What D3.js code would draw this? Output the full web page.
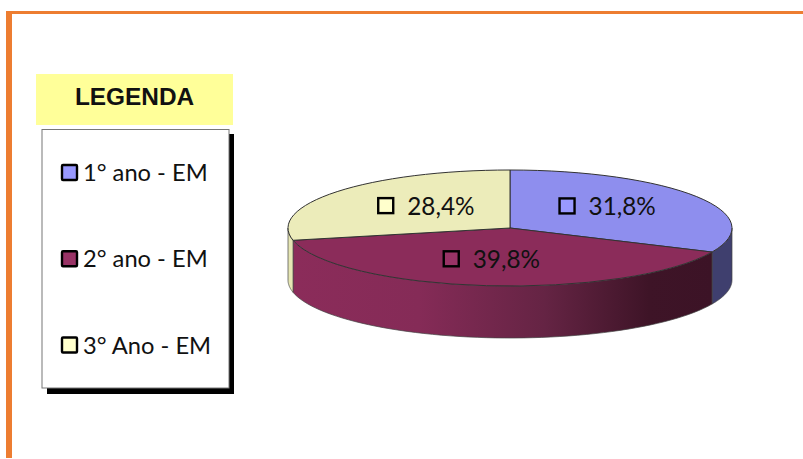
<!DOCTYPE html>
<html>
<head>
<meta charset="utf-8">
<script src="https://cdn.jsdelivr.net/npm/d3@7"></script>
<style>
  html, body { margin: 0; padding: 0; background: #fff; }
  svg { display: block; }
  .lbl { font-family: Lato, "Open Sans", sans-serif; font-size: 23.7px; fill: #111; }
</style>
</head>
<body>
<div id="chart"></div>
<script>
const categories = ["1° ano - EM", "2° ano - EM", "3° Ano - EM"];
const values = [31.8, 39.8, 28.4];
const valueLabels = ["31,8%", "39,8%", "28,4%"];
const keyColors = ["#9999ff", "#993366", "#ffffcc"];
const topColors = ["#8e8eee", "#8b2c5a", "#ececba"];
const sideColors = ["#3f3f6e", "url(#wall)", "#e6e6b4"];

const width = 803;
const height = 459;
const cx = 510, cy = 228, rx = 222, ry = 58, depth = 52;

const svg = d3
  .select("#chart")
  .append("svg")
  .attr("width", width)
  .attr("height", height);

// gradient on the front wall of the big slice
const grad = svg
  .append("defs")
  .append("linearGradient")
  .attr("id", "wall")
  .attr("gradientUnits", "userSpaceOnUse")
  .attr("x1", 293)
  .attr("x2", 712)
  .attr("y1", 0)
  .attr("y2", 0);
grad.append("stop").attr("offset", 0).attr("stop-color", "#8b2c5a");
grad.append("stop").attr("offset", 0.3).attr("stop-color", "#852b57");
grad.append("stop").attr("offset", 0.6).attr("stop-color", "#652444");
grad.append("stop").attr("offset", 0.85).attr("stop-color", "#3e1427");
grad.append("stop").attr("offset", 1).attr("stop-color", "#3c1326");

// slide frame
svg.append("rect").attr("x", 6).attr("y", 11).attr("width", 797).attr("height", 3).attr("fill", "#ed7d31");
svg.append("rect").attr("x", 6).attr("y", 11).attr("width", 6).attr("height", 447).attr("fill", "#ed7d31");

// legend
svg.append("rect").attr("x", 36).attr("y", 74).attr("width", 197).attr("height", 51).attr("fill", "#ffff99");
svg
  .append("text")
  .attr("x", 134.5)
  .attr("y", 104.5)
  .attr("text-anchor", "middle")
  .style("font-family", "'Liberation Sans', sans-serif")
  .style("font-weight", "bold")
  .style("font-size", "24.4px")
  .attr("fill", "#111")
  .text("LEGENDA");

svg.append("rect").attr("x", 47).attr("y", 134).attr("width", 187).attr("height", 260).attr("fill", "#000");
svg
  .append("rect")
  .attr("x", 42)
  .attr("y", 129.5)
  .attr("width", 187)
  .attr("height", 258.5)
  .attr("fill", "#fff")
  .attr("stroke", "#777")
  .attr("stroke-width", 1);

const legendY = d3.scalePoint().domain(categories).range([172.5, 345]);

const legendRows = svg
  .append("g")
  .selectAll("g")
  .data(categories)
  .join("g")
  .attr("transform", (d) => `translate(0,${legendY(d)})`);

legendRows
  .append("rect")
  .attr("x", 62)
  .attr("y", -7.5)
  .attr("width", 15)
  .attr("height", 15)
  .attr("rx", 1)
  .attr("fill", (d, i) => keyColors[i])
  .attr("stroke", "#000")
  .attr("stroke-width", 2.4);

legendRows
  .append("text")
  .attr("class", "lbl")
  .attr("x", 83)
  .attr("y", 8.5)
  .text((d) => d);

// pie
const slices = d3.pie().sort(null)(values);

const pointAt = (a, dy) => [cx + rx * Math.sin(a), cy - ry * Math.cos(a) + dy];

// side wall of a slice, only the part that faces the viewer
function wallPath(s) {
  const a0 = Math.max(s.startAngle, Math.PI / 2);
  const a1 = Math.min(s.endAngle, (3 * Math.PI) / 2);
  if (a1 <= a0) return null;
  const steps = d3.range(0, 61).map((k) => a0 + ((a1 - a0) * k) / 60);
  const upper = steps.map((a) => pointAt(a, 0));
  const lower = steps.slice().reverse().map((a) => pointAt(a, depth));
  return d3.line()(upper.concat(lower)) + "Z";
}

svg
  .append("g")
  .selectAll("path")
  .data(slices)
  .join("path")
  .attr("d", wallPath)
  .attr("fill", (d, i) => sideColors[i])
  .attr("stroke", "#444")
  .attr("stroke-width", 0.7)
  .attr("stroke-linejoin", "round");

const arc = d3.arc().innerRadius(0).outerRadius(rx);

svg
  .append("g")
  .attr("transform", `translate(${cx},${cy}) scale(1,${ry / rx})`)
  .selectAll("path")
  .data(slices)
  .join("path")
  .attr("d", arc)
  .attr("fill", (d, i) => topColors[i])
  .attr("stroke", "#333")
  .attr("stroke-width", 1)
  .attr("vector-effect", "non-scaling-stroke");

// value labels, placed along each slice's mid angle and then nudged
const labelRadius = 0.56;
const labelNudge = [[-5, -4], [-3, -1], [15, -1.5]];
const labels = svg
  .append("g")
  .selectAll("g")
  .data(slices)
  .join("g")
  .attr("transform", (d, i) => {
    const mid = (d.startAngle + d.endAngle) / 2;
    const x = cx + rx * labelRadius * Math.sin(mid) + labelNudge[i][0];
    const y = cy - ry * labelRadius * Math.cos(mid) + labelNudge[i][1];
    return `translate(${x},${y})`;
  });

labels
  .append("rect")
  .attr("x", -50)
  .attr("y", -8)
  .attr("width", 15)
  .attr("height", 15)
  .attr("fill", (d, i) => keyColors[i])
  .attr("stroke", "#000")
  .attr("stroke-width", 2.4);

labels
  .append("text")
  .attr("class", "lbl")
  .attr("x", -21)
  .attr("y", 8.5)
  .style("font-size", "24.3px")
  .text((d, i) => valueLabels[i]);
</script>
</body>
</html>
